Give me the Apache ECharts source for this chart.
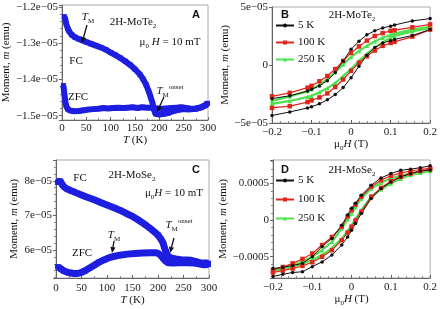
<!DOCTYPE html>
<html>
<head>
<meta charset="utf-8">
<script src="https://cdn.jsdelivr.net/npm/echarts@6/dist/echarts.min.js"></script>
<style>
  html, body { margin: 0; padding: 0; background: #fff; }
  #main { width: 440px; height: 309px; }
</style>
</head>
<body>
<div id="main"></div>
<script>
// ---- panel A: 2H-MoTe2, m vs T (units of 1e-5 emu)
var tFcA = [5, 7, 9, 12, 15, 20, 27, 35, 42, 50, 60, 70, 80, 90, 100, 110, 120, 130, 140, 150, 160, 167, 173, 178, 182, 186, 189, 192, 200, 210, 220, 230, 240, 250, 260, 270, 280, 290, 297];
var mFcA = [-1.227, -1.235, -1.248, -1.26, -1.268, -1.277, -1.284, -1.289, -1.293, -1.297, -1.302, -1.307, -1.312, -1.318, -1.326, -1.333, -1.341, -1.35, -1.36, -1.372, -1.386, -1.4, -1.415, -1.432, -1.448, -1.465, -1.482, -1.495, -1.497, -1.495, -1.492, -1.487, -1.484, -1.482, -1.483, -1.482, -1.479, -1.474, -1.468];
var tZfcA = [3, 5, 7, 9, 12, 17, 25, 35, 45, 55, 65, 75, 85, 95, 105, 115, 125, 135, 145, 155, 165, 175, 185, 195, 205, 215, 225, 235, 245, 255, 265, 275, 285, 295, 299];
var mZfcA = [-1.417, -1.44, -1.462, -1.474, -1.482, -1.486, -1.488, -1.487, -1.485, -1.483, -1.482, -1.481, -1.479, -1.48, -1.479, -1.478, -1.479, -1.478, -1.477, -1.479, -1.477, -1.478, -1.478, -1.48, -1.481, -1.48, -1.479, -1.478, -1.477, -1.479, -1.481, -1.481, -1.478, -1.472, -1.466];

// ---- panel C: 2H-MoSe2, m vs T (units of 1e-5 emu)
var tFcC = [3, 5, 8, 10, 13, 17, 22, 30, 40, 50, 60, 75, 90, 100, 115, 125, 140, 150, 160, 175, 185, 195, 200, 205, 210, 213, 216, 220, 225, 235, 245, 255, 265, 275, 285, 295, 299];
var mFcC = [7.95, 7.98, 8.0, 7.95, 7.87, 7.81, 7.76, 7.71, 7.65, 7.59, 7.53, 7.45, 7.36, 7.3, 7.21, 7.15, 7.04, 6.97, 6.88, 6.73, 6.62, 6.5, 6.43, 6.33, 6.2, 6.05, 5.92, 5.82, 5.77, 5.74, 5.72, 5.71, 5.7, 5.66, 5.62, 5.62, 5.62];
var tZfcC = [3, 6, 10, 15, 20, 27, 35, 43, 50, 57, 65, 75, 85, 95, 105, 115, 125, 140, 155, 170, 185, 195, 200, 205, 210, 215, 220, 230, 240, 250, 260, 270, 280, 290, 299];
var mZfcC = [5.52, 5.5, 5.45, 5.4, 5.37, 5.34, 5.32, 5.32, 5.35, 5.4, 5.47, 5.56, 5.65, 5.72, 5.78, 5.82, 5.85, 5.88, 5.9, 5.91, 5.92, 5.92, 5.9, 5.85, 5.76, 5.68, 5.63, 5.62, 5.63, 5.63, 5.63, 5.62, 5.6, 5.57, 5.58];

// ---- panel B: 2H-MoTe2 loops (units of 1e-5 emu), field in T
var fieldB = [0.2, 0.155, 0.11, 0.1, 0.08, 0.06, 0.04, 0.02, 0, -0.02, -0.04, -0.06, -0.08, -0.1, -0.11, -0.155, -0.2];
var b5Down = [4.0, 3.8, 3.45, 3.35, 3.2, 2.95, 2.6, 2.05, 1.35, 0.35, -0.65, -1.35, -1.8, -2.1, -2.25, -2.65, -2.9];
var b5Up = [-4.35, -4.05, -3.7, -3.6, -3.35, -3.0, -2.55, -1.95, -1.1, -0.1, 0.85, 1.5, 1.9, 2.1, 2.2, 2.55, 3.05];
var b100Down = [3.5, 3.25, 3.0, 2.95, 2.75, 2.5, 2.1, 1.6, 1.05, 0.35, -0.35, -0.95, -1.4, -1.8, -1.95, -2.4, -2.7];
var b100Up = [-3.7, -3.55, -3.2, -3.05, -2.8, -2.45, -1.9, -1.25, -0.5, 0.2, 0.75, 1.25, 1.65, 1.9, 2.0, 2.45, 3.05];
var b250Down = [3.3, 3.05, 2.7, 2.6, 2.35, 2.05, 1.65, 1.2, 0.7, 0.05, -0.6, -1.2, -1.7, -2.1, -2.25, -2.7, -3.1];
var b250Up = [-3.35, -3.1, -2.75, -2.65, -2.35, -2.0, -1.55, -0.95, -0.35, 0.35, 0.95, 1.5, 1.95, 2.35, 2.5, 2.9, 3.2];

// ---- panel D: 2H-MoSe2 loops (units of 1e-4 emu)
var fieldD = [0.2, 0.175, 0.15, 0.125, 0.1, 0.075, 0.05, 0.025, 0.01, 0, -0.01, -0.025, -0.05, -0.075, -0.1, -0.125, -0.15, -0.175, -0.2];
var d5Down = [7.4, 7.15, 6.95, 6.8, 6.35, 5.75, 4.75, 3.4, 2.3, 1.6, 0.7, -0.7, -2.5, -3.6, -5.0, -5.9, -6.2, -6.45, -6.6];
var d5Up = [-7.7, -7.4, -7.15, -7.05, -6.35, -5.7, -4.75, -3.4, -2.3, -1.4, -0.45, 0.9, 2.95, 4.3, 5.2, 5.9, 6.35, 6.7, 6.85];
var d100Down = [7.05, 6.9, 6.7, 6.4, 6.05, 5.45, 4.55, 3.2, 2.1, 1.35, 0.5, -0.9, -2.3, -3.4, -4.55, -5.3, -5.9, -6.4, -6.8];
var d100Up = [-7.15, -6.9, -6.6, -6.25, -5.75, -5.0, -4.1, -2.75, -1.7, -0.9, -0.05, 1.15, 3.2, 4.4, 5.3, 5.9, 6.35, 6.7, 6.95];
var d250Down = [6.8, 6.6, 6.35, 6.05, 5.7, 5.1, 4.3, 2.95, 1.8, 0.9, 0.1, -1.15, -2.95, -4.1, -5.0, -5.65, -6.15, -6.5, -6.8];
var d250Up = [-6.95, -6.7, -6.35, -5.95, -5.45, -4.75, -3.85, -2.5, -1.5, -0.7, 0.15, 1.35, 3.2, 4.2, 5.0, 5.65, 6.15, 6.45, 6.7];

var legendNames = ['5 K', '100 K', '250 K'];

var SERIF = '"Liberation Serif", "DejaVu Serif", serif';
var SANS = '"Liberation Sans", Arial, sans-serif';
var BLUE = '#1e1ee0';

function pairs(xs, ys, k) {
  var out = [];
  for (var i = 0; i < xs.length; i++) {
    out.push([xs[i], ys[i] * k]);
  }
  return out;
}

function sciLabel(v) {
  if (Math.abs(v) < 1e-15) return '0';
  var e = Math.floor(Math.log10(Math.abs(v)) + 1e-9);
  var m = Math.round(v / Math.pow(10, e) * 100) / 100;
  var es = String(Math.abs(e));
  if (es.length < 2) es = '0' + es;
  return (m + 'e' + (e < 0 ? '-' : '+') + es).replace(/-/g, '\u2212');
}

function plainLabel(v) {
  var s = String(+v.toFixed(6));
  return s.replace('-', '\u2212');
}

var richBase = {
  n: { fontFamily: SERIF, fontSize: 11, color: '#111' },
  i: { fontFamily: SERIF, fontSize: 11, fontStyle: 'italic', color: '#111' },
  s: { fontFamily: SERIF, fontSize: 7, color: '#111', verticalAlign: 'bottom', lineHeight: 15 },
  p: { fontFamily: SERIF, fontSize: 7, color: '#111', verticalAlign: 'top', lineHeight: 15 }
};

function xAxisT(gi) {
  return {
    type: 'value', gridIndex: gi, min: 0, max: 300, interval: 50,
    name: '{i|T}{n| (K)}', nameLocation: 'middle', nameGap: gi == 0 ? 10 : 15,
    nameTextStyle: { rich: richBase },
    axisLine: { lineStyle: { color: '#666' } },
    axisTick: { inside: true, length: 3, lineStyle: { color: '#666' } },
    minorTick: { show: true, splitNumber: 2, length: 2, lineStyle: { color: '#888' } },
    axisLabel: { fontFamily: SERIF, fontSize: 11, color: '#222', margin: gi == 0 ? 3 : 5 },
    splitLine: { show: false }
  };
}

function xAxisH(gi, gap) {
  return {
    type: 'value', gridIndex: gi, min: -0.2, max: 0.2, interval: 0.1,
    name: '{n|\u03bc}{s|0}{i|H}{n| (T)}', nameLocation: 'middle', nameGap: gap,
    nameTextStyle: { rich: richBase },
    axisLine: { onZero: false, lineStyle: { color: '#666' } },
    axisTick: { inside: true, length: 3, lineStyle: { color: '#666' } },
    minorTick: { show: true, splitNumber: 5, length: 2, lineStyle: { color: '#888' } },
    axisLabel: { fontFamily: SERIF, fontSize: 11, color: '#222', margin: 4, formatter: plainLabel },
    splitLine: { show: false }
  };
}

function yAxisM(gi, min, max, split, gap, fmt) {
  return {
    type: 'value', gridIndex: gi, min: min, max: max, splitNumber: split,
    name: '{n|Moment, }{i|m}{n| (emu)}', nameLocation: 'middle', nameGap: gap,
    nameTextStyle: { rich: richBase },
    axisLine: { onZero: false, lineStyle: { color: '#666' } },
    axisTick: { length: 3, lineStyle: { color: '#666' } },
    minorTick: { show: true, splitNumber: 5, length: 2, lineStyle: { color: '#888' } },
    axisLabel: { fontFamily: SERIF, fontSize: 11, color: '#222', margin: 4, formatter: fmt,
      showMinLabel: false, showMaxLabel: false },
    splitLine: { show: false }
  };
}

function bandSeries(name, xi, data, w) {
  return {
    name: name, type: 'line', xAxisIndex: xi, yAxisIndex: xi, data: data,
    symbol: 'rect', symbolSize: 5, showSymbol: true, animation: false,
    lineStyle: { width: w, color: BLUE },
    itemStyle: { color: BLUE }
  };
}

var loopStyle = {
  '5 K': { color: '#111', width: 1, symbol: 'circle', size: 3.5 },
  '100 K': { color: '#e0261c', width: 1.2, symbol: 'rect', size: 4.5 },
  '250 K': { color: '#4ee04e', width: 2.2, symbol: 'triangle', size: 4.5 }
};

function loopSeries(name, xi, data) {
  var st = loopStyle[name];
  return {
    name: name, type: 'line', xAxisIndex: xi, yAxisIndex: xi, data: data,
    symbol: st.symbol, symbolSize: st.size, showSymbol: true, animation: false,
    lineStyle: { width: st.width, color: st.color },
    itemStyle: { color: st.color }
  };
}

function txt(x, y, text, opt) {
  opt = opt || {};
  return {
    type: 'text', x: x, y: y, z: 100,
    style: {
      text: text, rich: richBase,
      align: opt.align || 'center', verticalAlign: 'middle',
      fontFamily: opt.family || SERIF, fontSize: opt.size || 11,
      fontWeight: opt.weight || 'normal', fill: '#111'
    }
  };
}

function arrow(x1, y1, x2, y2) {
  var dx = x2 - x1, dy = y2 - y1;
  var len = Math.sqrt(dx * dx + dy * dy);
  var ux = dx / len, uy = dy / len;
  var hl = 6, hw = 2.6;
  var bx = x2 - ux * hl, by = y2 - uy * hl;
  return [
    { type: 'line', z: 100, shape: { x1: x1, y1: y1, x2: bx, y2: by }, style: { stroke: '#111', lineWidth: 1.3 } },
    { type: 'polygon', z: 100, shape: { points: [[x2, y2], [bx - uy * hw, by + ux * hw], [bx + uy * hw, by - ux * hw]] }, style: { fill: '#111' } }
  ];
}

var revB = fieldB.slice().reverse();
var revD = fieldD.slice().reverse();

var graphics = [
  txt(196, 15, 'A', { family: SANS, weight: 'bold', size: 11 }),
  txt(133, 22, '{n|2H-MoTe}{s|2}'),
  txt(170, 42, '{n|\u03bc}{s|0}{i| H}{n| = 10 mT}'),
  txt(88, 17, '{i|T}{s|M}'),
  txt(76, 61, 'FC'),
  txt(78, 97, 'ZFC'),
  txt(170, 91, '{i|T}{s|M}{p|onset}'),
  txt(285, 15, 'B', { family: SANS, weight: 'bold', size: 11 }),
  txt(352, 15, '{n|2H-MoTe}{s|2}'),
  txt(196, 170, 'C', { family: SANS, weight: 'bold', size: 11 }),
  txt(80, 178, 'FC'),
  txt(132, 175, '{n|2H-MoSe}{s|2}'),
  txt(174, 193, '{n|\u03bc}{s|0}{i|H}{n| = 10 mT}'),
  txt(114, 235, '{i|T}{s|M}'),
  txt(82, 253, 'ZFC'),
  txt(179, 225, '{i|T}{s|M}{p|onset}'),
  txt(285, 170, 'D', { family: SANS, weight: 'bold', size: 11 }),
  txt(352, 170, '{n|2H-MoSe}{s|2}')
];
graphics = graphics
  .concat(arrow(87, 25, 82, 43))
  .concat(arrow(164, 97, 157, 112))
  .concat(arrow(114, 241, 112, 253))
  .concat(arrow(174, 238, 170, 253));

var legendBase = {
  data: legendNames, orient: 'vertical', left: 275, padding: 0,
  itemWidth: 18, itemHeight: 5,
  textStyle: { fontFamily: SERIF, fontSize: 11, color: '#111', padding: [0, 0, 0, -1] }
};

var option = {
  backgroundColor: '#fff',
  animation: false,
  grid: [
    { left: 56, top: 5, width: 152, height: 115, show: true, borderColor: '#aaa', borderWidth: 1 },
    { left: 272, top: 7, width: 160, height: 116, show: true, borderColor: '#aaa', borderWidth: 1 },
    { left: 56, top: 160, width: 153, height: 118, show: true, borderColor: '#aaa', borderWidth: 1 },
    { left: 273, top: 160, width: 159, height: 118, show: true, borderColor: '#aaa', borderWidth: 1 }
  ],
  xAxis: [xAxisT(0), xAxisH(1, 8), xAxisT(2), xAxisH(3, 14)],
  yAxis: [
    yAxisM(0, -1.512e-5, -1.195e-5, 3, 43, sciLabel),
    (function () {
      var a = yAxisM(1, -5e-5, 5e-5, 2, 34, sciLabel);
      a.interval = 5e-5;
      a.axisLabel.showMinLabel = true;
      a.axisLabel.showMaxLabel = true;
      a.minorTick.show = false;
      return a;
    })(),
    yAxisM(2, 5.19e-5, 8.6e-5, 3, 36, sciLabel),
    yAxisM(3, -7.9e-4, 8.2e-4, 3, 38, plainLabel)
  ],
  legend: [
    Object.assign({}, legendBase, { top: 20, itemGap: 6 }),
    Object.assign({}, legendBase, { top: 175, itemGap: 8 })
  ],
  series: [
    bandSeries('FC', 0, pairs(tFcA, mFcA, 1e-5), 6),
    bandSeries('ZFC', 0, pairs(tZfcA, mZfcA, 1e-5), 6),
    bandSeries('FC', 2, pairs(tFcC, mFcC, 1e-5), 7),
    bandSeries('ZFC', 2, pairs(tZfcC, mZfcC, 1e-5), 7),

    loopSeries('250 K', 1, pairs(fieldB, b250Down, 1e-5)),
    loopSeries('250 K', 1, pairs(revB, b250Up, 1e-5)),
    loopSeries('100 K', 1, pairs(fieldB, b100Down, 1e-5)),
    loopSeries('100 K', 1, pairs(revB, b100Up, 1e-5)),
    loopSeries('5 K', 1, pairs(fieldB, b5Down, 1e-5)),
    loopSeries('5 K', 1, pairs(revB, b5Up, 1e-5)),

    loopSeries('250 K', 3, pairs(fieldD, d250Down, 1e-4)),
    loopSeries('250 K', 3, pairs(revD, d250Up, 1e-4)),
    loopSeries('100 K', 3, pairs(fieldD, d100Down, 1e-4)),
    loopSeries('100 K', 3, pairs(revD, d100Up, 1e-4)),
    loopSeries('5 K', 3, pairs(fieldD, d5Down, 1e-4)),
    loopSeries('5 K', 3, pairs(revD, d5Up, 1e-4))
  ],
  graphic: graphics
};

var chart = echarts.init(document.getElementById('main'), null, { renderer: 'canvas' });
chart.setOption(option);
</script>
</body>
</html>
